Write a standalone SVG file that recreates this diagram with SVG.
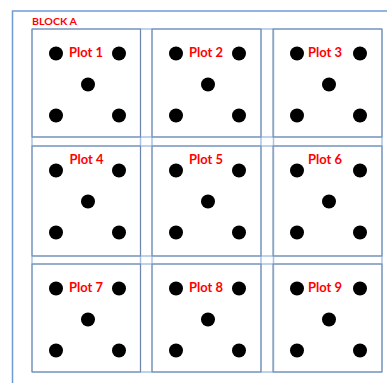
<svg xmlns="http://www.w3.org/2000/svg" width="387" height="383" viewBox="0 0 387 383">
<style>
.lbl{font-family:Lato,"Liberation Sans",sans-serif;font-weight:bold;fill:#ff0000;}
.plot{font-size:14px;text-anchor:middle;}
.grid{stroke:#a9c3e3;stroke-width:1.5;fill:none;}
.cell{stroke:#6f87ad;stroke-width:1;fill:none;}
.frame{stroke:#6f9cd6;stroke-width:1.5;fill:none;}
.dot{fill:#000;}
</style>
<defs>
<g id="dots">
<circle class="dot" cx="24" cy="24.5" r="7"/>
<circle class="dot" cx="87" cy="24.5" r="7"/>
<circle class="dot" cx="56" cy="55.5" r="7"/>
<circle class="dot" cx="24" cy="86.5" r="7"/>
<circle class="dot" cx="87" cy="86.5" r="7"/>
</g>
</defs>
<rect width="387" height="383" fill="#fff"/>
<path class="frame" d="M12.5,390 V11 H395"/>
<text class="lbl" x="32" y="25" font-size="10" textLength="45" lengthAdjust="spacingAndGlyphs">BLOCK A</text>
<g id="connectors">
<path class="grid" d="M32,29 V372 M140.5,29 V372 M152,29 V372 M261,29 V372 M273.5,29 V372 M382,29 V372 M32,29 H382 M32,137 H382 M32,146 H382 M32,256 H382 M32,264 H382 M32,372 H382"/>
</g>
<g id="plot1" transform="translate(32,29)"><rect class="cell" x="0" y="0" width="108.5" height="108"/><use href="#dots"/><text class="lbl plot" x="54" y="28.3" textLength="34" lengthAdjust="spacingAndGlyphs">Plot 1</text></g>
<g id="plot2" transform="translate(152,29)"><rect class="cell" x="0" y="0" width="109" height="108"/><use href="#dots"/><text class="lbl plot" x="54" y="28.3" textLength="34" lengthAdjust="spacingAndGlyphs">Plot 2</text></g>
<g id="plot3" transform="translate(273,29)"><rect class="cell" x="0" y="0" width="109" height="108"/><use href="#dots"/><text class="lbl plot" x="52" y="28.3" textLength="34" lengthAdjust="spacingAndGlyphs">Plot 3</text></g>
<g id="plot4" transform="translate(32,146)"><rect class="cell" x="0" y="0" width="108.5" height="110"/><use href="#dots"/><text class="lbl plot" x="54.5" y="18" textLength="34" lengthAdjust="spacingAndGlyphs">Plot 4</text></g>
<g id="plot5" transform="translate(152,146)"><rect class="cell" x="0" y="0" width="109" height="110"/><use href="#dots"/><text class="lbl plot" x="54" y="18" textLength="34" lengthAdjust="spacingAndGlyphs">Plot 5</text></g>
<g id="plot6" transform="translate(273,146)"><rect class="cell" x="0" y="0" width="109" height="110"/><use href="#dots"/><text class="lbl plot" x="52" y="18" textLength="34" lengthAdjust="spacingAndGlyphs">Plot 6</text></g>
<g id="plot7" transform="translate(32,264)"><rect class="cell" x="0" y="0" width="108.5" height="108"/><use href="#dots"/><text class="lbl plot" x="54" y="27.7" textLength="34" lengthAdjust="spacingAndGlyphs">Plot 7</text></g>
<g id="plot8" transform="translate(152,264)"><rect class="cell" x="0" y="0" width="109" height="108"/><use href="#dots"/><text class="lbl plot" x="54" y="27.7" textLength="34" lengthAdjust="spacingAndGlyphs">Plot 8</text></g>
<g id="plot9" transform="translate(273,264)"><rect class="cell" x="0" y="0" width="109" height="108"/><use href="#dots"/><text class="lbl plot" x="52" y="27.7" textLength="34" lengthAdjust="spacingAndGlyphs">Plot 9</text></g>
</svg>
